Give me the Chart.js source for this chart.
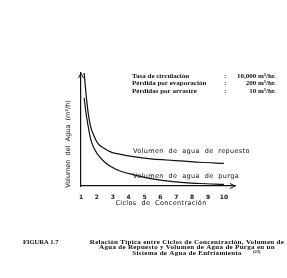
<!DOCTYPE html>
<html lang="es">
<head>
<meta charset="UTF-8">
<title>Figura 1.7</title>
<script src="https://cdn.jsdelivr.net/npm/chart.js"></script>
<style>
  html, body { margin: 0; padding: 0; background: #fff; }
  #wrap { width: 287px; height: 278px; }
</style>
</head>
<body>
<div id="wrap"><canvas id="myChart" width="287" height="278"></canvas></div>
<script>
// ciclos de concentración (eje x)
const ciclos = [1.2, 1.3, 1.45, 1.6, 1.8, 2.05, 2.5, 2.9, 3.5, 4.3, 5.4, 6.4, 7.5, 8.5, 10];
// volumen de agua de repuesto
const repuesto = [100, 84, 65, 53, 45, 38, 33, 30, 28, 26, 24, 23, 22, 21, 20];
// volumen de agua de purga
const purga = [78, 66, 53, 42, 34, 28, 21, 17, 13, 10, 6.5, 4.5, 3, 2.2, 1.5];
const xTicks = [1, 2, 3, 4, 5, 6, 7, 8, 9, 10];

const datosTabla = [
  ['Tasa de circulación', '10,000 m³/hr.'],
  ['Pérdida por evaporación', '200 m³/hr.'],
  ['Pérdidas por arrastre', '10 m³/hr.']
];
const leyenda = ['Relación Típica entre Ciclos de Concentración, Volumen de',
  'Agua de Repuesto y Volumen de Agua de Purga en un',
  'Sistema de Agua de Enfriamiento'];

const toPts = (ys) => ciclos.map((c, i) => ({ x: c, y: ys[i] }));

const textos = {
  id: 'textos',
  afterDraw(chart) {
    const ctx = chart.ctx;
    const a = chart.chartArea;
    ctx.save();
    ctx.fillStyle = '#111';
    ctx.strokeStyle = '#111';
    // flechas de ejes
    ctx.beginPath();
    ctx.moveTo(a.left - 2.5, a.top + 5); ctx.lineTo(a.left, a.top); ctx.lineTo(a.left + 2.5, a.top + 5);
    ctx.moveTo(a.right - 5, a.bottom - 2.5); ctx.lineTo(a.right, a.bottom); ctx.lineTo(a.right - 5, a.bottom + 2.5);
    ctx.lineWidth = 1;
    ctx.stroke();

    // tabla de datos
    ctx.font = 'bold 7px "Liberation Serif"';
    ctx.textBaseline = 'middle';
    datosTabla.forEach((r, i) => {
      const y = 76 + i * 7.5;
      ctx.textAlign = 'left';
      ctx.fillText(r[0], 132, y);
      ctx.fillText(':', 224, y);
      ctx.textAlign = 'right';
      ctx.fillText(r[1], 276, y);
    });

    // etiquetas de curvas
    ctx.font = '6.5px "DejaVu Sans"';
    ctx.letterSpacing = '0.35px';
    ctx.textAlign = 'left';
    ctx.fillText('Volumen  de  agua  de  repuesto', 133, 151);
    ctx.fillText('Volumen  de  agua  de  purga', 133, 176);

    // títulos de ejes
    ctx.textAlign = 'center';
    ctx.fillText('Ciclos  de  Concentración', 161, 203);
    ctx.letterSpacing = '0px';
    ctx.save();
    ctx.translate(68, 144);
    ctx.rotate(-Math.PI / 2);
    ctx.fillText('Volumen  del  Agua  (m³/h)', 0, 0);
    ctx.restore();

    // pie de figura
    ctx.font = 'bold 6.5px "Liberation Serif"';
    ctx.textAlign = 'left';
    ctx.fillText('FIGURA 1.7', 23, 242);
    ctx.font = 'bold 7px "Liberation Serif"';
    ctx.letterSpacing = '0.3px';
    ctx.textAlign = 'center';
    leyenda.forEach((l, i) => ctx.fillText(l, 187, 242 + i * 5.6));
    ctx.letterSpacing = '0px';
    ctx.font = 'bold 4.5px "Liberation Serif"';
    ctx.textAlign = 'left';
    ctx.fillText('(23)', 253, 251.5);
    ctx.restore();
  }
};

new Chart(document.getElementById('myChart'), {
  type: 'line',
  data: {
    datasets: [
      { label: 'Volumen de agua de repuesto', data: toPts(repuesto) },
      { label: 'Volumen de agua de purga', data: toPts(purga) }
    ]
  },
  options: {
    responsive: false,
    animation: false,
    layout: { padding: { top: 73, right: 52, left: 0, bottom: 0 } },
    elements: {
      line: { borderColor: '#111', borderWidth: 1.2, cubicInterpolationMode: 'monotone', fill: false },
      point: { radius: 0 }
    },
    plugins: { legend: { display: false }, tooltip: { enabled: false } },
    scales: {
      x: {
        type: 'linear', min: 1, max: 10.7,
        afterFit: (s) => { s.height = 92; },
        afterBuildTicks: (s) => { s.ticks = xTicks.map(v => ({ value: v })); },
        grid: { display: false },
        border: { color: '#111', width: 1.2 },
        ticks: { color: '#111', padding: 0, font: { size: 6, family: 'DejaVu Sans', weight: 'bold' } }
      },
      y: {
        min: 0, max: 100,
        afterFit: (s) => { s.width = 81; },
        grid: { display: false },
        border: { color: '#111', width: 1.2 },
        ticks: { display: false }
      }
    }
  },
  plugins: [textos]
});
</script>
</body>
</html>
